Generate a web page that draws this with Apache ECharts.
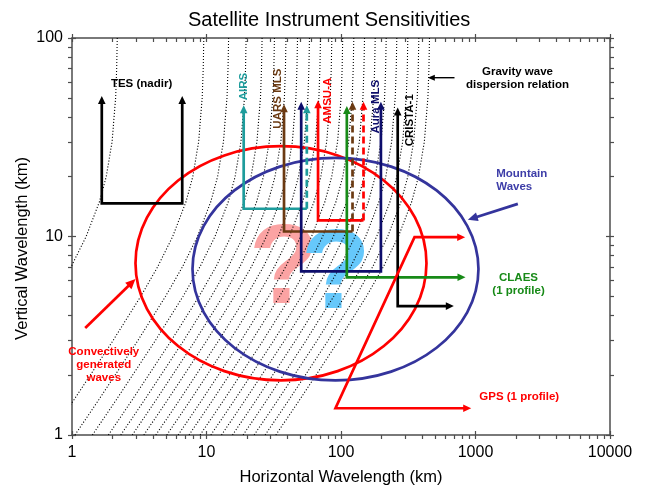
<!DOCTYPE html>
<html>
<head>
<meta charset="utf-8">
<script src="https://cdn.jsdelivr.net/npm/echarts@6/dist/echarts.min.js"></script>
<style>
  html, body { margin: 0; padding: 0; background: #fff; }
  #chart { width: 650px; height: 489px; }
</style>
</head>
<body>
<div id="chart"></div>
<script>
// tick values (km)
const xMajor = [1, 10, 100, 1000, 10000];
const xAllTicks = [1, 2, 3, 4, 5, 6, 7, 8, 9, 10, 20, 30, 40, 50, 60, 70, 80, 90, 100, 200, 300, 400, 500, 600, 700, 800, 900,
  1000, 2000, 3000, 4000, 5000, 6000, 7000, 8000, 9000, 10000];
const yMajor = [1, 10, 100];
const yAllTicks = [1, 2, 3, 4, 5, 6, 7, 8, 9, 10, 20, 30, 40, 50, 60, 70, 80, 90, 100];

// gravity wave dispersion curves: horizontal wavelength where each curve meets the top (λz = 100 km)
const dispTopX = [2.17, 9.55, 14.6, 19.7, 25.9, 32.0, 39.0, 47.5, 58.3, 70.4, 85.5, 103, 124.5, 149.6, 179.6, 216.8, 260, 314, 379, 455];
// common curve shape: λx relative to the top value, at these vertical wavelengths
const dispZ = [1, 1.5, 2, 3, 5, 7, 10, 15, 20, 30, 50, 70, 100];
const dispShape = [0.072, 0.108, 0.143, 0.212, 0.34, 0.452, 0.587, 0.738, 0.828, 0.915, 0.973, 0.99, 1];

// instrument sensitivity outlines, [λx, λz] in km
const tes = [[1.665, 51.1], [1.665, 14.7], [6.6, 14.7], [6.6, 51.1]];
const airsSolid = [[18.9, 45.9], [18.9, 13.8], [55.7, 13.8]];
const airsDash = [[55.7, 13.8], [55.7, 45.9]];
const uarsSolid = [[37.7, 46.4], [37.7, 10.6], [121.8, 10.6]];
const uarsDash = [[121.8, 10.6], [121.8, 47.7]];
const aura = [[50.6, 47.7], [50.6, 6.68], [198, 6.68], [198, 47.7]];
const amsuSolid = [[67.5, 48.6], [67.5, 12.05], [147, 12.05]];
const amsuDash = [[147, 12.05], [147, 47.7]];
const claes = [[110.5, 45.4], [110.5, 6.23], [843, 6.23]];
const crista = [[264, 44.7], [264, 4.46], [690, 4.46]];
const gps = [[838, 9.92], [352, 9.92], [91, 1.364], [929, 1.364]];
const gravityArrow = [[698, 63.1], [442, 63.1]];
const mountainArrow = [[2064, 14.6], [877, 12.14]];
const convectiveArrow = [[1.254, 3.46], [2.965, 6.11]];

// wave source regions: [λx min, λx max, λz min, λz max]
const convectiveRegion = [2.965, 432, 1.885, 28.5];
const mountainRegion = [7.87, 1052, 1.885, 24.9];

const FONT = '"Liberation Sans", Arial, Helvetica, sans-serif';
const TEAL = '#1e9c9c', BROWN = '#6b3a12', NAVY = '#0d0d6b', RED = '#ff0000',
  GREEN = '#178a17', BLUE = '#34349c', BLACK = '#000';

const shapes = [
  { pts: tes, color: BLACK, start: true, end: true },
  { pts: airsSolid, color: TEAL, start: true },
  { pts: airsDash, color: TEAL, dash: [7, 4], end: true },
  { pts: uarsSolid, color: BROWN, start: true },
  { pts: uarsDash, color: BROWN, dash: [7, 4], end: true },
  { pts: aura, color: NAVY, start: true, end: true },
  { pts: amsuSolid, color: RED, start: true },
  { pts: amsuDash, color: RED, dash: [7, 4], end: true },
  { pts: claes, color: GREEN, start: true, end: true },
  { pts: crista, color: BLACK, start: true, end: true },
  { pts: gps, color: RED, start: true, end: true },
  { pts: gravityArrow, color: BLACK, width: 1.4, end: true, hl: 7, hw: 3 },
  { pts: mountainArrow, color: BLUE, width: 2.7, end: true, hl: 10, hw: 4.5 },
  { pts: convectiveArrow, color: RED, width: 2.7, end: true, hl: 10, hw: 4.5 }
];

const regions = [
  { box: convectiveRegion, color: RED },
  { box: mountainRegion, color: BLUE }
];

const labels = [
  { at: [3.29, 58.6], text: 'TES (nadir)', color: BLACK },
  { at: [18.9, 56.9], text: 'AIRS', color: TEAL, rot: true },
  { at: [33.7, 49.5], text: 'UARS MLS', color: BROWN, rot: true },
  { at: [80, 48.3], text: 'AMSU-A', color: RED, rot: true },
  { at: [180.6, 45.1], text: 'Aura MLS', color: NAVY, rot: true },
  { at: [323, 38.5], text: 'CRISTA-1', color: BLACK, rot: true },
  { at: [2052, 62.8], text: 'Gravity wave\ndispersion relation', color: BLACK },
  { at: [1426, 19.1], text: 'Mountain\nWaves', color: '#3d3da8', align: 'left' },
  { at: [2089, 5.72], text: 'CLAES\n(1 profile)', color: GREEN },
  { at: [2113, 1.561], text: 'GPS (1 profile)', color: RED },
  { at: [1.723, 2.249], text: 'Convectively\ngenerated\nwaves', color: RED }
];

const qmarks = [
  { at: [37.5, 6.65], color: '#fba3a3' },
  { at: [91.5, 6.3], color: '#66c8fb' }
];

function arrowHead(from, to, color, len, half) {
  const dx = to[0] - from[0], dy = to[1] - from[1];
  const d = Math.hypot(dx, dy) || 1;
  const ux = dx / d, uy = dy / d;
  const bx = to[0] - ux * len, by = to[1] - uy * len;
  return {
    type: 'polygon',
    shape: { points: [[to[0], to[1]], [bx - uy * half, by + ux * half], [bx + uy * half, by - ux * half]] },
    style: { fill: color, stroke: null }
  };
}

function pullBack(from, to, amount) {
  const dx = to[0] - from[0], dy = to[1] - from[1];
  const d = Math.hypot(dx, dy) || 1;
  return [to[0] - dx / d * amount, to[1] - dy / d * amount];
}

function renderPath(params, api) {
  const s = shapes[params.dataIndex];
  const pts = s.pts.map(p => api.coord(p));
  const n = pts.length;
  const hl = s.hl || 8, hw = s.hw || 3.8;
  const line = pts.map(p => p.slice());
  const kids = [];
  if (s.end) {
    kids.push(arrowHead(pts[n - 2], pts[n - 1], s.color, hl, hw));
    line[n - 1] = pullBack(pts[n - 2], pts[n - 1], hl * 0.6);
  }
  if (s.start) {
    kids.push(arrowHead(pts[1], pts[0], s.color, hl, hw));
    line[0] = pullBack(pts[1], pts[0], hl * 0.6);
  }
  kids.unshift({
    type: 'polyline',
    shape: { points: line },
    style: { stroke: s.color, lineWidth: s.width || 2.7, lineDash: s.dash || null, fill: 'none', lineJoin: 'miter' }
  });
  return { type: 'group', children: kids };
}

function renderRegion(params, api) {
  const r = regions[params.dataIndex];
  const a = api.coord([r.box[0], r.box[2]]);
  const b = api.coord([r.box[1], r.box[3]]);
  return {
    type: 'ellipse',
    shape: { cx: (a[0] + b[0]) / 2, cy: (a[1] + b[1]) / 2, rx: Math.abs(b[0] - a[0]) / 2, ry: Math.abs(b[1] - a[1]) / 2 },
    style: { stroke: r.color, lineWidth: 2.7, fill: 'none' }
  };
}

function renderLabel(params, api) {
  const t = labels[params.dataIndex];
  const p = api.coord(t.at);
  return {
    type: 'text',
    x: p[0], y: p[1],
    rotation: t.rot ? Math.PI / 2 : 0,
    style: {
      text: t.text, fill: t.color, fontSize: 11.5, fontWeight: 'bold', fontFamily: FONT,
      align: t.align || 'center', verticalAlign: 'middle', lineHeight: 13
    }
  };
}

function renderQmark(params, api) {
  const q = qmarks[params.dataIndex];
  const p = api.coord(q.at);
  return {
    type: 'text',
    x: p[0], y: p[1],
    style: { text: '?', fill: q.color, fontSize: 114, fontWeight: 'bold', fontFamily: FONT, align: 'center', verticalAlign: 'middle' }
  };
}

const axisColor = '#4d4d4d';

// bottom/left/right: all ticks outward + majors inward; top: all ticks inward + majors outward
function xAxisPair(pos, main) {
  const top = pos === 'top';
  return [{
    type: 'log', logBase: 10, min: 1, max: 10000, position: pos,
    name: main ? 'Horizontal Wavelength (km)' : '',
    nameLocation: 'middle', nameGap: 34, nameMoveOverlap: false,
    nameTextStyle: { fontSize: 16.5, color: '#000', fontFamily: FONT },
    axisLine: { show: true, lineStyle: { color: axisColor, width: 1.5 } },
    axisTick: { show: true, inside: top, length: 4, customValues: xAllTicks, lineStyle: { color: axisColor, width: 1.2 } },
    axisLabel: { show: main, fontSize: 16, color: '#000', fontFamily: FONT, margin: 10, customValues: xMajor,
      formatter: v => String(Math.round(v)) },
    splitLine: { show: false }
  }, {
    type: 'log', logBase: 10, min: 1, max: 10000, position: pos,
    axisLine: { show: false },
    axisTick: { show: true, inside: !top, length: 4, customValues: xMajor, lineStyle: { color: axisColor, width: 1.2 } },
    axisLabel: { show: false },
    splitLine: { show: false }
  }];
}

function yAxisPair(pos, main) {
  return [{
    type: 'log', logBase: 10, min: 1, max: 100, position: pos,
    name: main ? 'Vertical Wavelength (km)' : '',
    nameLocation: 'middle', nameGap: 41, nameMoveOverlap: false,
    nameTextStyle: { fontSize: 16.5, color: '#000', fontFamily: FONT, padding: [0, 24, 0, 0] },
    axisLine: { show: true, lineStyle: { color: axisColor, width: 1.5 } },
    axisTick: { show: true, inside: false, length: 4, customValues: yAllTicks, lineStyle: { color: axisColor, width: 1.2 } },
    axisLabel: { show: main, fontSize: 16, color: '#000', fontFamily: FONT, margin: 9, customValues: yMajor,
      formatter: v => String(Math.round(v)) },
    splitLine: { show: false }
  }, {
    type: 'log', logBase: 10, min: 1, max: 100, position: pos,
    axisLine: { show: false },
    axisTick: { show: true, inside: true, length: 4, customValues: yMajor, lineStyle: { color: axisColor, width: 1.2 } },
    axisLabel: { show: false },
    splitLine: { show: false }
  }];
}

const dispSeries = dispTopX.map(top => ({
  type: 'line',
  data: dispZ.map((z, i) => [top * dispShape[i], z]),
  showSymbol: false,
  silent: true,
  clip: true,
  z: 2,
  lineStyle: { color: '#000', width: 1.1, type: [1.1, 1.9] }
}));

const chart = echarts.init(document.getElementById('chart'));
chart.setOption({
  animation: false,
  backgroundColor: '#fff',
  title: {
    text: 'Satellite Instrument Sensitivities',
    left: 183, top: 5,
    textStyle: { fontSize: 20, fontWeight: 'normal', color: '#000', fontFamily: FONT }
  },
  grid: { left: 72, right: 40, top: 38, bottom: 54, containLabel: false, outerBoundsMode: 'none' },
  xAxis: [...xAxisPair('bottom', true), ...xAxisPair('top', false)],
  yAxis: [...yAxisPair('left', true), ...yAxisPair('right', false)],
  series: [
    { type: 'custom', renderItem: renderQmark, data: qmarks.map(q => q.at), encode: { x: 0, y: 1 }, z: 1, silent: true },
    ...dispSeries,
    { type: 'custom', renderItem: renderRegion, data: regions.map(r => [r.box[0], r.box[2]]), encode: { x: 0, y: 1 }, z: 3, silent: true },
    { type: 'custom', renderItem: renderPath, data: shapes.map(s => s.pts[0]), encode: { x: 0, y: 1 }, z: 4, silent: true },
    { type: 'custom', renderItem: renderLabel, data: labels.map(l => l.at), encode: { x: 0, y: 1 }, z: 5, silent: true }
  ]
});
</script>
</body>
</html>
